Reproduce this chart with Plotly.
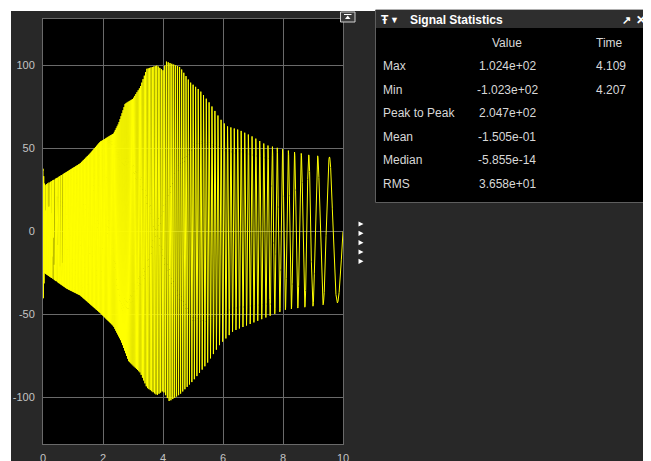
import numpy as np
import plotly.graph_objects as go

# ---------------- data ----------------
# upper envelope of the signal (time, value)
env_up_t = [0, 0.05, 0.35, 0.8, 1.24, 1.57, 1.9, 2.35, 2.52, 2.74, 3.0, 3.24, 3.46, 3.8,
            4.0, 4.11, 4.3, 4.57, 4.9, 5.23, 5.57, 5.9, 6.12, 6.56, 7.0, 7.45, 7.9, 8.34,
            8.9, 9.5, 10]
env_up_v = [38, 28, 31, 36, 41, 47, 54, 59, 65, 77, 80, 87, 98, 100,
            97, 102.4, 101, 99, 90, 85, 77, 68, 63.5, 61, 57, 52, 50, 48,
            46, 45, 44]
# lower envelope of the signal (time, value)
env_lo_t = [0, 0.05, 0.8, 1.24, 1.9, 2.35, 2.6, 2.85, 3.24, 3.46, 3.8, 4.0, 4.21, 4.57,
            5.0, 5.45, 5.9, 6.34, 7.0, 7.67, 8.1, 9.0, 9.79, 10]
env_lo_v = [-45, -25, -34.5, -38.5, -49, -57, -66, -78, -85, -94, -98.6, -96, -102.3, -98,
            -90, -80, -68, -60, -55, -50, -47, -45, -43, -43]
freq_t = [0, 2, 3, 4, 5, 6, 7, 7.5, 8, 8.5, 9, 9.3, 9.6, 10]
freq_v = [45, 36, 27, 18, 12, 9.3, 8, 7, 5.3, 4.5, 3.4, 2.6, 2.1, 1.1]

x_ticks = [0, 2, 4, 6, 8, 10]
y_ticks = [-100, -50, 0, 50, 100]

stat_names = ["Max", "Min", "Peak to Peak", "Mean", "Median", "RMS"]
stat_values = ["1.024e+02", "-1.023e+02", "2.047e+02", "-1.505e-01", "-5.855e-14", "3.658e+01"]
stat_times = ["4.109", "4.207", "", "", "", ""]

# ---------------- build waveform from the read values ----------------
t = np.linspace(0, 10, 30001)
f = np.interp(t, freq_t, freq_v)
dt = t[1] - t[0]
cum = np.concatenate([[0], np.cumsum((f[1:] + f[:-1]) / 2 * dt)])
phi = 2 * np.pi * (cum - cum[-1])          # phase anchored at the end (t = 10)
s = np.sin(phi)
up = np.interp(t, env_up_t, env_up_v)
lo = np.interp(t, env_lo_t, env_lo_v)
y = np.where(s >= 0, up * s, -lo * s)

# ---------------- geometry helpers (page pixels -> paper) ----------------
OFF = 8                      # default body margin of the html page
W, H = 651, 461 - OFF
L, R, T, B = 43, 343, 19, 444    # plot area in page pixels


def xp(px):
    return (px - L) / (R - L)


def yp(py):
    return (B - py) / (B - T)


BG = "#282828"
GRID = "#6a6a6a"
TXT = "#d8d8d8"
FONT = "Arial, Liberation Sans, sans-serif"

fig = go.Figure()
fig.add_trace(go.Scatter(x=t, y=y, mode="lines",
                         line=dict(color="#ffff00", width=1),
                         hoverinfo="skip", showlegend=False))

shapes = []
# white outer margins (3px inside the figure + 8px body margin)
shapes.append(dict(type="rect", xref="paper", yref="paper", x0=xp(0), x1=xp(700),
                   y0=yp(0), y1=yp(11), fillcolor="white", line=dict(width=0), layer="below"))
shapes.append(dict(type="rect", xref="paper", yref="paper", x0=xp(0), x1=xp(11),
                   y0=yp(0), y1=yp(500), fillcolor="white", line=dict(width=0), layer="below"))
# statistics panel
shapes.append(dict(type="rect", xref="paper", yref="paper", x0=xp(375.5), x1=xp(700),
                   y0=yp(10), y1=yp(202.5), fillcolor="black",
                   line=dict(color="#5e5e5e", width=1), layer="below"))
shapes.append(dict(type="rect", xref="paper", yref="paper", x0=xp(376), x1=xp(700),
                   y0=yp(10), y1=yp(28), fillcolor="#2e2e2e",
                   line=dict(width=0), layer="below"))
# small icon at top right of the axes
shapes.append(dict(type="rect", xref="paper", yref="paper", x0=xp(340.5), x1=xp(355),
                   y0=yp(12), y1=yp(22), fillcolor="#3a3a3a",
                   line=dict(color="#d0d0d0", width=1), layer="above"))
shapes.append(dict(type="line", xref="paper", yref="paper", x0=xp(344), x1=xp(351.5),
                   y0=yp(14.5), y1=yp(14.5), line=dict(color="white", width=1), layer="above"))
shapes.append(dict(type="path", xref="paper", yref="paper",
                   path=f"M {xp(347.7)} {yp(15.5)} L {xp(345)} {yp(19)} L {xp(350.5)} {yp(19)} Z",
                   fillcolor="white", line=dict(width=0), layer="above"))
# little triangles at right of axes
for py in [224, 233.3, 242.7, 252, 261.3]:
    shapes.append(dict(type="path", xref="paper", yref="paper",
                       path=f"M {xp(358.5)} {yp(py - 2.6)} L {xp(358.5)} {yp(py + 2.6)} L {xp(363.5)} {yp(py)} Z",
                       fillcolor="white", line=dict(width=0), layer="above"))

ann = []


def add_text(px, py, text, size=12, color=TXT, anchor="left", bold=False):
    ann.append(dict(xref="paper", yref="paper", x=xp(px), y=yp(py), text=f"<b>{text}</b>" if bold else text,
                    showarrow=False, xanchor=anchor, yanchor="middle",
                    font=dict(family=FONT, size=size, color=color), borderpad=0))


add_text(380, 19.5, "Ŧ", size=12, color="white", bold=True)
add_text(389, 19.5, "▼", size=9, color="white")
add_text(409, 19.5, "Signal Statistics", size=12, color="white", bold=True)
add_text(626, 19.5, "↗", size=11, color="white", anchor="center", bold=True)
add_text(641, 19.5, "✕", size=12, color="white", anchor="center", bold=True)

add_text(507, 43, "Value", anchor="center")
add_text(609, 43, "Time", anchor="center")
row_y = [66, 89.5, 113, 136.5, 160, 183.5]
for name, val, tm, ry in zip(stat_names, stat_values, stat_times, row_y):
    add_text(382, ry, name)
    add_text(507, ry, val, anchor="center")
    if tm:
        add_text(611, ry, tm, anchor="center")

fig.update_layout(
    template="none",
    width=W, height=H,
    margin=dict(l=L - OFF, r=W - (R - OFF), t=T - OFF, b=H - (B - OFF), pad=0, autoexpand=False),
    paper_bgcolor=BG, plot_bgcolor="black",
    shapes=shapes, annotations=ann,
    font=dict(family=FONT, size=11, color="#c4c4c4"),
    xaxis=dict(range=[0, 10], tickvals=x_ticks, ticktext=[str(v) for v in x_ticks],
               showgrid=True, gridcolor=GRID, gridwidth=1, zeroline=False, automargin=False,
               showline=True, linecolor=GRID, linewidth=1, mirror=True,
               ticks="", ticklabelstandoff=4, tickfont=dict(size=11, color="#c4c4c4")),
    yaxis=dict(range=[-128, 128], tickvals=y_ticks, ticktext=[str(v) for v in y_ticks],
               showgrid=True, gridcolor=GRID, gridwidth=1, zeroline=False, automargin=False,
               showline=True, linecolor=GRID, linewidth=1, mirror=True,
               ticks="", ticklabelstandoff=5, tickfont=dict(size=11, color="#c4c4c4")),
)

fig.write_html("out.html")
